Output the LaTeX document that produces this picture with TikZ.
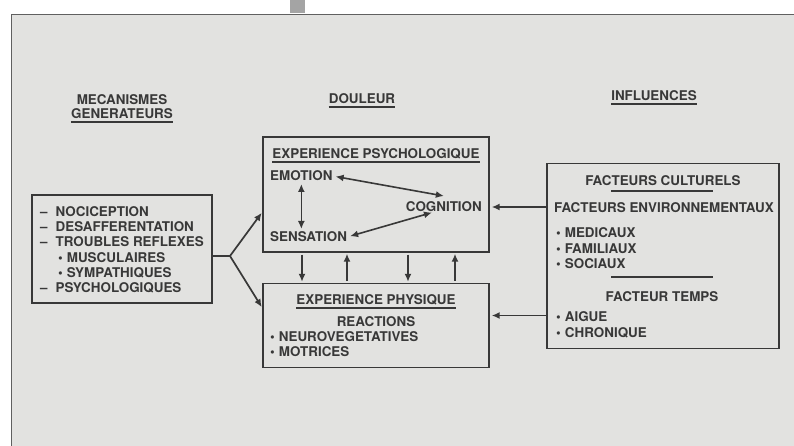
\documentclass[tikz,border=0pt]{standalone}
\usepackage{fontspec}
\setmainfont{TeX Gyre Heros}
\usetikzlibrary{arrows.meta,positioning}
\definecolor{paper}{HTML}{E2E2E0}
\definecolor{ink}{HTML}{383838}
\definecolor{tab}{HTML}{A4A4A4}
\tikzset{
  lbl/.style={inner sep=0pt,text height=9.6pt,text depth=0pt,text=ink,
    font=\fontsize{13.4}{15}\bfseries\selectfont},
  boite/.style={draw=ink,line width=1.4pt,inner sep=0pt},
  fl/.style={draw=ink,line width=1.7pt,-{Latex[length=8pt,width=7pt]}},
  dfl/.style={draw=ink,line width=1.6pt,{Latex[length=8pt,width=7pt]}-{Latex[length=8pt,width=7pt]}},
  souligne/.style={draw=ink,line width=1.2pt}
}
\newcommand{\pt}{\textbullet\hspace{4pt}}
\newcommand{\tiret}{--\hspace{8pt}}
\begin{document}
\begin{tikzpicture}[x=1pt,y=-1pt]
\useasboundingbox (0,0) rectangle (794,446);
\fill[white] (0,0) rectangle (794,446);
\fill[paper,draw=ink!80,line width=0.9pt] (11,14) rectangle (810,460);
\fill[tab] (290,0) rectangle (305,13);

% titres
\node[lbl] (meca) at (122,100) {MECANISMES};
\node[lbl] (gene) at (122,114) {GENERATEURS};
\node[lbl] (doul) at (362,99) {DOULEUR};
\node[lbl] (infl) at (654,96) {INFLUENCES};
\foreach \t in {gene,doul,infl}
  \draw[souligne] ([yshift=-3pt]\t.south west) -- ([yshift=-3pt]\t.south east);

% cadres
\node[boite,minimum width=180pt,minimum height=108pt] (gen) at (122,249) {};
\node[boite,minimum width=226pt,minimum height=115pt] (psy) at (376,194.5) {};
\node[boite,minimum width=226pt,minimum height=84pt] (phy) at (376,325.5) {};
\node[boite,minimum width=232pt,minimum height=185pt] (inf) at (663,256) {};

% mecanismes generateurs
\node[lbl,anchor=west] (g1) at (40,212) {\tiret NOCICEPTION};
\node[lbl,anchor=west] (g2) at (40,227) {\tiret DESAFFERENTATION};
\node[lbl,anchor=west] (g3) at (40,242) {\tiret TROUBLES REFLEXES};
\node[lbl,anchor=west] (g4) at (58,258) {\pt MUSCULAIRES};
\node[lbl,anchor=west] (g5) at (58,273) {\pt SYMPATHIQUES};
\node[lbl,anchor=west] (g6) at (40,288) {\tiret PSYCHOLOGIQUES};

% experience psychologique
\node[lbl] (psyt) at (376,154) {EXPERIENCE PSYCHOLOGIQUE};
\draw[souligne] ([yshift=-3pt]psyt.south west) -- ([yshift=-3pt]psyt.south east);
\node[lbl,anchor=west] (emo) at (270,176) {EMOTION};
\node[lbl,anchor=east] (cog) at (482,207) {COGNITION};
\node[lbl,anchor=west] (sen) at (270,237) {SENSATION};
\draw[dfl,shorten <=3pt] (emo.east) -- ([yshift=6pt]cog.north);
\draw[dfl,shorten <=3pt,shorten >=2pt] (sen.east) -- ([xshift=-10pt]cog.south);
\draw[dfl,shorten <=3pt,shorten >=3pt] (emo.south) -- (sen.north -| emo.south);

% experience physique
\node[lbl] (phyt) at (376,300) {EXPERIENCE PHYSIQUE};
\draw[souligne] ([yshift=-3pt]phyt.south west) -- ([yshift=-3pt]phyt.south east);
\node[lbl] (reac) at (376,322) {REACTIONS};
\node[lbl,anchor=west] (neur) at (270,337) {\pt NEUROVEGETATIVES};
\node[lbl,anchor=west] (motr) at (270,352) {\pt MOTRICES};

% liaisons entre les deux experiences
\foreach \dx in {-74,32}
  \draw[fl,shorten <=2pt,shorten >=1pt] ([xshift=\dx pt]psy.south) -- ([xshift=\dx pt]phy.north);
\foreach \dx in {-29,79}
  \draw[fl,shorten <=2pt,shorten >=1pt] ([xshift=\dx pt]phy.north) -- ([xshift=\dx pt]psy.south);

% influences
\node[lbl] (cult) at (663,181) {FACTEURS CULTURELS};
\draw[souligne] (611,191) -- (713,191);
\node[lbl] (envi) at (664,208) {FACTEURS ENVIRONNEMENTAUX};
\node[lbl,anchor=west] (med) at (556,233) {\pt MEDICAUX};
\node[lbl,anchor=west] (fam) at (556,249) {\pt FAMILIAUX};
\node[lbl,anchor=west] (soc) at (556,264) {\pt SOCIAUX};
\draw[souligne] (611,277) -- (713,277);
\node[lbl] (temp) at (662,297) {FACTEUR TEMPS};
\node[lbl,anchor=west] (aig) at (556,317) {\pt AIGUE};
\node[lbl,anchor=west] (chr) at (556,333) {\pt CHRONIQUE};

\coordinate (ph) at ([yshift=10pt]phy.east);
\draw[fl,shorten >=2pt] (inf.west |- cog.east) -- (psy.east |- cog.east);
\draw[fl,shorten >=2pt] (inf.west |- ph) -- (ph);

% fourche vers les deux experiences
\coordinate (fourche) at (230,256);
\draw[ink,line width=2.6pt] (gen.east |- fourche) -- (fourche);
\draw[fl,shorten >=1pt] (fourche) -- ([yshift=-17.5pt]psy.west);
\draw[fl,shorten >=1pt] (fourche) -- ([yshift=17.5pt]phy.west);
\end{tikzpicture}
\end{document}
